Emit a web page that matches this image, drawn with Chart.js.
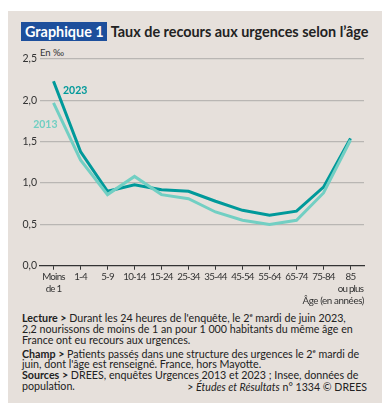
<!DOCTYPE html>
<html lang="fr">
<head>
<meta charset="utf-8">
<script src="https://cdn.jsdelivr.net/npm/chart.js@4"></script>
<style>
    body { margin: 0; background: #fff; font-family: 'Lato', sans-serif; }
    .panel { position: absolute; left: 8px; top: 11px; width: 374px; height: 392px; background: #e6e0db; }
    .title { position: absolute; left: 13px; top: 12px; font-size: 14.4px; font-weight: 700; color: #222; white-space: nowrap; }
    .title .tag { background: #1d4f9c; color: #fff; padding: 1px 3px 1px 4px; margin-right: 1px; }
    .unit { position: absolute; left: 32px; top: 36px; font-size: 9.5px; color: #333; }
    #chartWrap { position: absolute; left: 0; top: 34px; width: 374px; height: 262px; }
    .notes { position: absolute; left: 14px; top: 298px; width: 360px; font-size: 10.7px; line-height: 11px; color: #222; white-space: nowrap; }
    .notes b { font-weight: 700; }
    .notes sup { font-size: 6px; }
    .source { position: absolute; right: 15px; top: 370px; font-size: 10.6px; color: #222; }
</style>
</head>
<body>
<div class="panel">
    <div class="title"><span class="tag">Graphique 1</span> Taux de recours aux urgences selon l’âge</div>
    <div class="unit">En ‰</div>
    <div id="chartWrap"><canvas id="ageChart"></canvas></div>
    <div class="notes">
        <b>Lecture &gt;</b> Durant les 24 heures de l'enquête, le 2<sup>e</sup> mardi de juin 2023,<br>
        2,2 nourissons de moins de 1 an pour 1 000 habitants du même âge en<br>
        France ont eu recours aux urgences.<br>
        <b>Champ &gt;</b> Patients passés dans une structure des urgences le 2<sup>e</sup> mardi de<br>
        juin, dont l'âge est renseigné. France, hors Mayotte.<br>
        <b>Sources &gt;</b> DREES, enquêtes Urgences 2013 et 2023 ; Insee, données de<br>
        population.
    </div>
    <div class="source">&gt; <i>Études et Résultats</i> n° 1334 © DREES</div>
</div>

<script>
// Data
const ageGroups = [['Moins', 'de 1'], '1-4', '5-9', '10-14', '15-24', '25-34', '35-44', '45-54', '55-64', '65-74', '75-84', ['85', 'ou plus']];
const rate2023 = [2.23, 1.38, 0.90, 0.98, 0.92, 0.90, 0.78, 0.67, 0.61, 0.66, 0.95, 1.54];
const rate2013 = [1.97, 1.28, 0.86, 1.08, 0.86, 0.81, 0.65, 0.55, 0.50, 0.55, 0.88, 1.52];
const yTicks = [0, 0.5, 1.0, 1.5, 2.0, 2.5];

const dark = '#00999a';
const light = '#72cfc3';

// Series names drawn next to the first points
const seriesLabels = {
    id: 'seriesLabels',
    afterDatasetsDraw(chart) {
        const { ctx, scales: { x, y } } = chart;
        ctx.save();
        ctx.font = "bold 10.5px 'Lato', sans-serif";
        ctx.textBaseline = 'middle';
        ctx.fillStyle = dark;
        ctx.fillText('2023', x.getPixelForValue(0.35), y.getPixelForValue(2.12));
        ctx.fillStyle = light;
        ctx.textAlign = 'right';
        ctx.fillText('2013', x.getPixelForValue(0.15), y.getPixelForValue(1.71));
        ctx.restore();
    }
};

// Condensed look for the x labels (the original uses a narrow face)
const narrowX = {
    id: 'narrowX',
    afterUpdate(chart) {
        const s = chart.scales.x;
        const drawLabels = s.drawLabels.bind(s);
        const drawTitle = s.drawTitle.bind(s);
        s.drawLabels = (area) => {
            s.ctx.save();
            s.ctx.letterSpacing = '-0.8px';
            drawLabels(area);
            s.ctx.restore();
        };
        s.drawTitle = () => {
            s.ctx.save();
            s.ctx.letterSpacing = '-0.4px';
            drawTitle();
            s.ctx.restore();
        };
    }
};

new Chart(document.getElementById('ageChart'), {
    type: 'line',
    data: {
        labels: ageGroups,
        datasets: [{
            label: '2013',
            data: rate2013,
            borderColor: light,
            borderWidth: 3,
            pointRadius: 0,
            tension: 0
        }, {
            label: '2023',
            data: rate2023,
            borderColor: dark,
            borderWidth: 3,
            pointRadius: 0,
            tension: 0
        }]
    },
    options: {
        responsive: true,
        maintainAspectRatio: false,
        animation: false,
        layout: { padding: { top: 14, right: 18, left: 0, bottom: 0 } },
        plugins: {
            legend: { display: false },
            tooltip: { enabled: false }
        },
        scales: {
            x: {
                offset: true,
                grid: { offset: false, drawOnChartArea: false, tickLength: 4, color: '#333' },
                border: { display: true, color: '#333', width: 1.2 },
                ticks: {
                    color: '#333', padding: 1, maxRotation: 0, autoSkip: false,
                    font: { family: 'Lato', size: 9.8 }
                },
                title: {
                    display: true, text: 'Âge (en années)', align: 'end',
                    color: '#333', padding: { top: 0, bottom: 0 },
                    font: { family: 'Lato', size: 9.8 }
                }
            },
            y: {
                min: 0,
                max: 2.5,
                afterBuildTicks: (scale) => { scale.ticks = yTicks.map(v => ({ value: v })); },
                afterFit: (scale) => { scale.width = 32; },
                grid: {
                    color: (c) => c.tick.value === 0 ? 'rgba(0,0,0,0)' : '#b9b6b3',
                    lineWidth: 1.2,
                    drawTicks: false
                },
                border: { display: false },
                ticks: {
                    color: '#333', padding: 3,
                    font: { family: 'Lato', size: 10.5 },
                    callback: (v) => v.toFixed(1).replace('.', ',')
                }
            }
        }
    },
    plugins: [seriesLabels, narrowX]
});
</script>
</body>
</html>
